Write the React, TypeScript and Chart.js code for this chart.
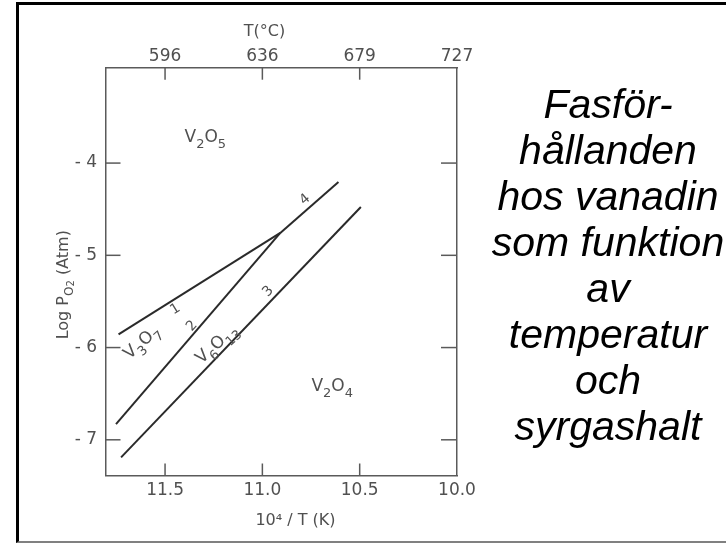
import React, { useEffect, useRef } from 'react';
import { Chart, registerables } from 'chart.js';

Chart.register(...registerables);

// ---- axis ticks ----
const xTickValues = [11.5, 11.0, 10.5, 10.0];
const xTickLabels = ['11.5', '11.0', '10.5', '10.0'];
const topTickLabels = ['596', '636', '679', '727'];
const yTickValues = [-4, -5, -6, -7];
const yTickLabels = ['- 4', '- 5', '- 6', '- 7'];

// ---- phase boundary lines (10^4/T, log pO2) ----
const line1X = [11.739, 10.908];
const line1Y = [-5.857, -4.757];
const line2X = [11.752, 10.908];
const line2Y = [-6.83, -4.757];
const line3X = [11.726, 10.494];
const line3Y = [-7.19, -4.476];
const line4X = [10.908, 10.609];
const line4Y = [-4.757, -4.205];

// ---- annotations ----
const phaseNames = ['V2O5', 'V3O7', 'V6O13', 'V2O4'];
const phaseX = [11.293, 11.618, 11.233, 10.641];
const phaseY = [-3.726, -5.947, -5.965, -6.419];
const phaseAngle = [0, -42, -42, 0];

const lineNames = ['1', '2', '3', '4'];
const lineLabelX = [11.447, 11.362, 10.97, 10.78];
const lineLabelY = [-5.586, -5.767, -5.392, -4.397];
const lineLabelAngle = [-32, -48, -46, -40];

const captionLines = ['Fasför-', 'hållanden', 'hos vanadin', 'som funktion', 'av', 'temperatur', 'och', 'syrgashalt'];

const FONT = "'DejaVu Sans', sans-serif";
const TEXT = '#505050';
const AXIS = '#5a5a5a';
const LINE = '#2a2a2a';

const X_MIN = 10.0;
const X_MAX = 11.806;
const Y_MIN = -7.387;
const Y_MAX = -2.966;

type Run = { t: string; size: number; dy: number; w?: number };

function drawRuns(ctx: CanvasRenderingContext2D, runs: Run[], x: number, y: number, angle: number) {
  ctx.save();
  ctx.translate(x, y);
  ctx.rotate((angle * Math.PI) / 180);
  ctx.fillStyle = TEXT;
  ctx.textBaseline = 'middle';
  ctx.textAlign = 'left';
  let total = 0;
  for (const r of runs) {
    ctx.font = `${r.size}px ${FONT}`;
    r.w = ctx.measureText(r.t).width;
    total += r.w;
  }
  let cx = -total / 2;
  for (const r of runs) {
    ctx.font = `${r.size}px ${FONT}`;
    ctx.fillText(r.t, cx, r.dy);
    cx += r.w || 0;
  }
  ctx.restore();
}

function formulaRuns(name: string, size: number): Run[] {
  const parts = name.match(/[A-Za-z]+|\d+/g) || [];
  return parts.map((p) =>
    /\d/.test(p) ? { t: p, size: Math.round(size * 0.75), dy: size * 0.42 } : { t: p, size, dy: 0 }
  );
}

const annotationPlugin = {
  id: 'annotations',
  afterDraw(chart: any) {
    const { ctx, chartArea: a, scales } = chart;
    const sx = scales.x;
    const sy = scales.y;
    // inward tick marks
    ctx.save();
    ctx.strokeStyle = AXIS;
    ctx.lineWidth = 1.5;
    const seg = (x1: number, y1: number, x2: number, y2: number) => {
      ctx.beginPath();
      ctx.moveTo(x1, y1);
      ctx.lineTo(x2, y2);
      ctx.stroke();
    };
    xTickValues.forEach((v) => {
      const px = sx.getPixelForValue(v);
      if (Math.abs(px - a.right) < 2) return;
      seg(px, a.bottom, px, a.bottom - 12);
      seg(px, a.top, px, a.top + 12);
    });
    yTickValues.forEach((v) => {
      const py = sy.getPixelForValue(v);
      seg(a.left, py, a.left + 15, py);
      seg(a.right, py, a.right - 16, py);
    });
    ctx.restore();

    // phase names
    phaseNames.forEach((n, i) => {
      drawRuns(ctx, formulaRuns(n, 17), sx.getPixelForValue(phaseX[i]), sy.getPixelForValue(phaseY[i]), phaseAngle[i]);
    });
    // line numbers
    lineNames.forEach((n, i) => {
      drawRuns(ctx, [{ t: n, size: 14, dy: 0 }], sx.getPixelForValue(lineLabelX[i]), sy.getPixelForValue(lineLabelY[i]), lineLabelAngle[i]);
    });

    // axis titles
    drawRuns(ctx, [{ t: 'T(°C)', size: 16, dy: 0 }], a.left + 159, a.top - 36, 0);
    drawRuns(ctx, [{ t: '10⁴ / T (K)', size: 16, dy: 0 }], a.left + 190, a.bottom + 45, 0);
    drawRuns(
      ctx,
      [
        { t: 'Log P', size: 16, dy: 0 },
        { t: 'O', size: 12, dy: 6 },
        { t: '2', size: 10, dy: 8 },
        { t: ' (Atm)', size: 16, dy: 0 },
      ],
      a.left - 42,
      a.top + 217,
      -90
    );
  },
};

function pts(xs: number[], ys: number[]) {
  return xs.map((x, i) => ({ x, y: ys[i] }));
}

export default function App() {
  const ref = useRef<HTMLCanvasElement | null>(null);

  useEffect(() => {
    if (!ref.current) return;
    const ds = (xs: number[], ys: number[]) => ({
      data: pts(xs, ys),
      showLine: true,
      borderColor: LINE,
      borderWidth: 2,
      pointRadius: 0,
      fill: false,
      tension: 0,
    });
    const setX = (scale: any) => {
      scale.ticks = xTickValues.map((v) => ({ value: v }));
    };
    const setY = (scale: any) => {
      scale.ticks = yTickValues.map((v) => ({ value: v }));
    };
    const tickFont = { family: FONT, size: 17 };
    const chart = new Chart(ref.current, {
      type: 'scatter',
      data: {
        datasets: [ds(line1X, line1Y), ds(line2X, line2Y), ds(line3X, line3Y), ds(line4X, line4Y)],
      },
      plugins: [annotationPlugin],
      options: {
        animation: false,
        responsive: false,
        devicePixelRatio: 1,
        layout: { padding: { left: 0, top: 0, right: 269, bottom: 0 } },
        plugins: { legend: { display: false }, tooltip: { enabled: false } },
        scales: {
          x: {
            type: 'linear',
            position: 'bottom',
            min: X_MIN,
            max: X_MAX,
            reverse: true,
            afterBuildTicks: setX,
            afterFit: (s: any) => {
              s.height = 68.5;
            },
            grid: { display: false, drawTicks: false },
            border: { display: true, color: AXIS, width: 1.5 },
            ticks: {
              padding: 5,
              color: TEXT,
              font: tickFont,
              maxRotation: 0,
              autoSkip: false,
              callback: (v: any) => {
                const i = xTickValues.findIndex((t) => Math.abs(t - Number(v)) < 1e-6);
                return i >= 0 ? xTickLabels[i] : '';
              },
            },
          },
          x2: {
            type: 'linear',
            position: 'top',
            min: X_MIN,
            max: X_MAX,
            reverse: true,
            afterBuildTicks: setX,
            afterFit: (s: any) => {
              s.height = 67.7;
            },
            grid: { display: false, drawTicks: false },
            border: { display: true, color: AXIS, width: 1.5 },
            ticks: {
              padding: 1,
              color: TEXT,
              font: tickFont,
              maxRotation: 0,
              autoSkip: false,
              callback: (v: any) => {
                const i = xTickValues.findIndex((t) => Math.abs(t - Number(v)) < 1e-6);
                return i >= 0 ? topTickLabels[i] : '';
              },
            },
          },
          y: {
            type: 'linear',
            position: 'left',
            min: Y_MIN,
            max: Y_MAX,
            afterBuildTicks: setY,
            afterFit: (s: any) => {
              s.width = 105.5;
            },
            grid: { display: false, drawTicks: false },
            border: { display: true, color: AXIS, width: 1.5 },
            ticks: {
              padding: 8.5,
              color: TEXT,
              font: tickFont,
              autoSkip: false,
              callback: (v: any) => {
                const i = yTickValues.findIndex((t) => Math.abs(t - Number(v)) < 1e-6);
                return i >= 0 ? yTickLabels[i] : '';
              },
            },
          },
          y2: {
            type: 'linear',
            position: 'right',
            min: Y_MIN,
            max: Y_MAX,
            afterBuildTicks: setY,
            afterFit: (s: any) => {
              s.width = 0;
            },
            grid: { display: false, drawTicks: false },
            border: { display: true, color: AXIS, width: 1.5 },
            ticks: { display: false },
          },
        },
      },
    } as any);
    return () => chart.destroy();
  }, []);

  return (
    <div
      style={{
        position: 'fixed',
        left: 0,
        top: 0,
        width: 726,
        height: 544,
        background: '#ffffff',
        overflow: 'hidden',
      }}
    >
      <div
        style={{
          position: 'absolute',
          left: 16,
          top: 2,
          width: 710,
          height: 541,
          boxSizing: 'border-box',
          borderLeft: '3px solid #000',
          borderTop: '3px solid #000',
          borderBottom: '2px solid #808080',
        }}
      />
      <canvas ref={ref} width={726} height={544} style={{ position: 'absolute', left: 0, top: 0 }} />
      <div
        style={{
          position: 'absolute',
          left: 490,
          top: 81,
          width: 236,
          textAlign: 'center',
          fontFamily: "'Liberation Sans', Arial, sans-serif",
          fontStyle: 'italic',
          fontSize: '41px',
          lineHeight: '46px',
          color: '#000',
          whiteSpace: 'nowrap',
        }}
      >
        {captionLines.map((l, i) => (
          <div key={i}>{l}</div>
        ))}
      </div>
    </div>
  );
}
